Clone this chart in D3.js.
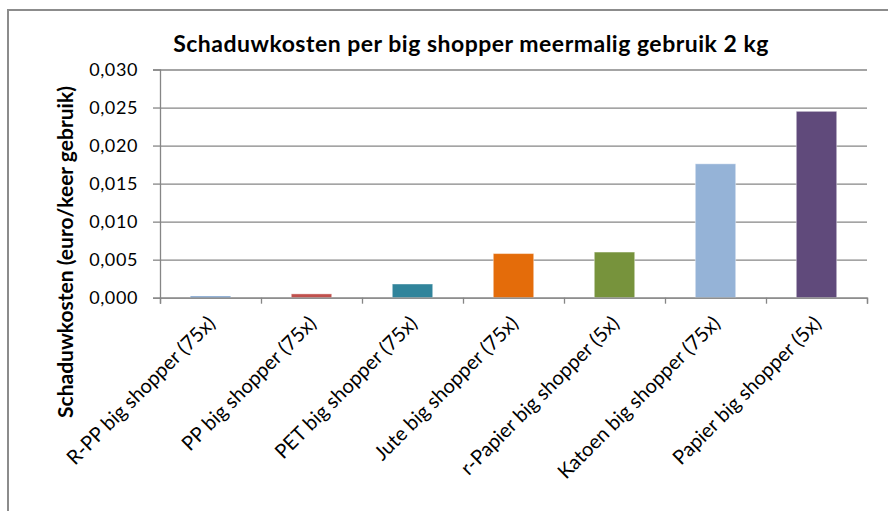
<!DOCTYPE html>
<html>
<head>
<meta charset="utf-8">
<script src="https://cdn.jsdelivr.net/npm/d3@7"></script>
<style>
  body { margin: 0; background: #fff; }
  text { font-family: Lato, "Open Sans", sans-serif; }
</style>
</head>
<body>
<div id="chart"></div>
<script>
// data
const categories = [
    "R-PP big shopper (75x)",
    "PP big shopper (75x)",
    "PET big shopper (75x)",
    "Jute big shopper (75x)",
    "r-Papier big shopper (5x)",
    "Katoen big shopper (75x)",
    "Papier big shopper (5x)"
];
const values = [0.0002, 0.0005, 0.0018, 0.0058, 0.0060, 0.0176, 0.0245];
const colors = ["#4F81BD", "#C0504D", "#31849B", "#E46C0A", "#77933C", "#95B3D7", "#604A7B"];
const yTicks = [0, 0.005, 0.010, 0.015, 0.020, 0.025, 0.030];
const title = "Schaduwkosten per big shopper meermalig gebruik 2 kg";
const yTitle = "Schaduwkosten (euro/keer gebruik)";

const W = 888, H = 511;
const plotL = 160, plotR = 867, plotT = 69.5, plotB = 297.7;

const svg = d3.select("#chart").append("svg")
    .attr("width", W).attr("height", H);

svg.append("rect").attr("width", W).attr("height", H).attr("fill", "white");

// cadre du graphique
svg.append("path")
    .attr("d", "M8," + H + " V10 H" + W)
    .attr("fill", "none").attr("stroke", "#8c8c8c").attr("stroke-width", 2);

const y = d3.scaleLinear().domain([0, 0.03]).range([plotB, plotT]);
const x = d3.scaleBand().domain(categories).range([plotL, plotR])
    .paddingInner(0.6).paddingOuter(0.3);

// lignes de grille
const grid = svg.append("g").attr("transform", "translate(" + plotL + ",0)")
    .call(d3.axisLeft(y).tickValues(yTicks).tickSize(-(plotR - plotL)).tickFormat(""));
grid.select(".domain").remove();
grid.selectAll("line").attr("stroke", "#868686").attr("stroke-width", 1.3);

// axe y avec etiquettes
const fmt = d3.format(".3f");
const yAxis = svg.append("g").attr("transform", "translate(" + plotL + ",0)")
    .call(d3.axisLeft(y).tickValues(yTicks).tickSize(7).tickPadding(15)
        .tickFormat(d => fmt(d).replace(".", ",")));
yAxis.select(".domain").attr("stroke", "#868686").attr("stroke-width", 1.3);
yAxis.selectAll("line").attr("stroke", "#868686").attr("stroke-width", 1.3);
yAxis.selectAll("text").attr("font-size", 18).attr("fill", "#000")
    .attr("letter-spacing", 0.6)
    .style("font-family", "Lato, sans-serif");

// barres
svg.append("g").selectAll("rect")
    .data(values)
    .join("rect")
    .attr("x", (d, i) => x(categories[i]))
    .attr("y", d => y(d))
    .attr("width", x.bandwidth())
    .attr("height", d => plotB - y(d))
    .attr("fill", (d, i) => colors[i])
    .attr("stroke", "rgba(255,255,255,0.4)").attr("stroke-width", 1);

// axe x : traits entre les categories
const xt = d3.scaleLinear().domain([0, categories.length]).range([plotL, plotR]);
const xAxis = svg.append("g").attr("transform", "translate(0," + plotB + ")")
    .call(d3.axisBottom(xt).ticks(categories.length).tickSize(6).tickFormat(""));
xAxis.select(".domain").attr("stroke", "#868686").attr("stroke-width", 1.3);
xAxis.selectAll("line").attr("stroke", "#868686").attr("stroke-width", 1.3);

// etiquettes inclinees
svg.append("g").selectAll("text")
    .data(categories)
    .join("text")
    .attr("transform", d => "translate(" + (x(d) + x.bandwidth() / 2 + 1) + "," + (plotB + 22) + ") rotate(-45)")
    .attr("text-anchor", "end")
    .attr("dy", "0.35em")
    .attr("font-size", 20)
    .attr("fill", "#000")
    .text(d => d);

// titre
svg.append("text")
    .attr("x", 471).attr("y", 52)
    .attr("text-anchor", "middle")
    .attr("font-size", 23).attr("font-weight", "bold")
    .attr("letter-spacing", 0.5)
    .text(title);

// titre de l'axe y
svg.append("text")
    .attr("transform", "translate(73,252) rotate(-90)")
    .attr("text-anchor", "middle")
    .attr("font-size", 21).attr("font-weight", "bold")
    .text(yTitle);
</script>
</body>
</html>
